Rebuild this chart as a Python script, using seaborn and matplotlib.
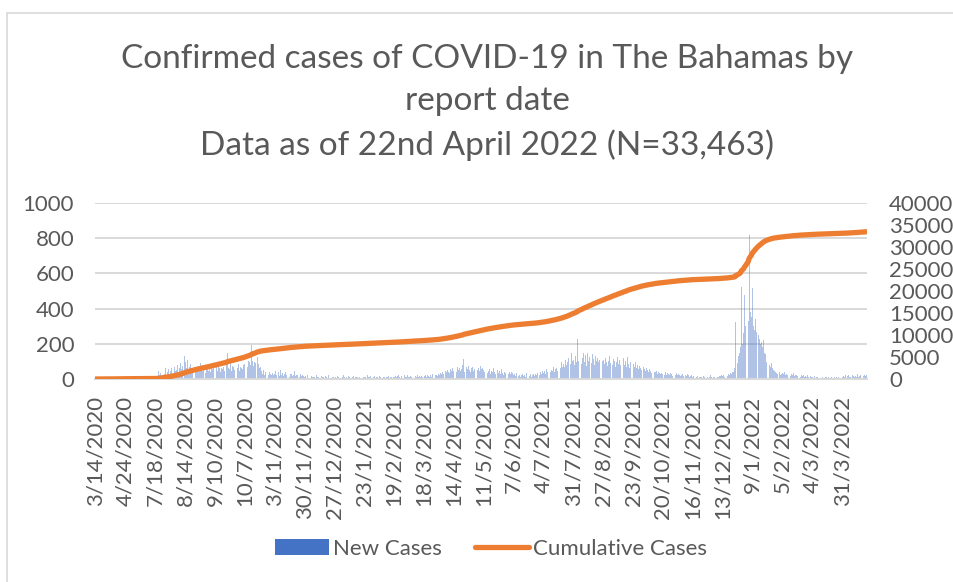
import numpy as np
import pandas as pd
import matplotlib
matplotlib.use("Agg")
import matplotlib.pyplot as plt
import seaborn as sns
from matplotlib.patches import Patch
from matplotlib.lines import Line2D

# ---- data (daily new cases, by 27-report blocks) ----
tick_labels = ["3/14/2020", "4/24/2020", "7/18/2020", "8/14/2020", "9/10/2020",
               "10/7/2020", "3/11/2020", "30/11/2020", "27/12/2020", "23/1/2021",
               "19/2/2021", "18/3/2021", "14/4/2021", "11/5/2021", "7/6/2021",
               "4/7/2021", "31/7/2021", "27/8/2021", "23/9/2021", "20/10/2021",
               "16/11/2021", "13/12/2021", "9/1/2022", "5/2/2022", "4/3/2022",
               "31/3/2022"]

b00 = [1,0,1,0,1,1,2,3,0,0,4,2,5,1,2,3,4,0,3,2,1,6,5,2,3,4,9]
b01 = [3,2,1,2,0,1,3,2,1,0,2,1,1,0,2,1,3,1,0,2,1,2,3,1,2,1,2]
b02 = [5,8,12,45,20,35,15,50,30,62,25,40,55,30,48,60,35,70,45,52,80,40,65,90,55,75,130]
b03 = [95,60,110,45,70,85,40,65,100,55,48,72,38,60,90,52,44,68,35,58,80,47,62,40,75,55,66]
b04 = [50,72,45,88,60,40,65,55,70,48,82,150,62,58,90,45,75,66,52,70,60,85,48,70,65,58,80]
b05 = [85,90,70,100,95,80,193,100,75,95,90,127,88,60,70,45,30,50,25,40,35,22,38,28,20,33,25]
b06 = [30,45,22,38,18,50,25,33,15,28,40,20,35,12,26,30,18,22,45,15,20,25,10,30,18,22,15]
b07 = [10,15,8,20,12,5,18,9,14,11,6,25,10,13,7,16,9,12,4,15,10,8,20,11,6,14,9]
b08 = [8,12,5,18,10,14,6,9,20,11,7,13,4,15,10,8,12,16,6,9,11,14,5,10,13,7,12]
b09 = [10,14,7,22,9,12,16,5,11,18,8,13,10,6,15,12,20,9,11,7,14,10,16,8,12,9,13]
b10 = [12,18,9,15,22,11,8,16,13,20,10,14,25,9,12,17,11,19,8,15,13,22,10,16,12,18,14]
b11 = [15,20,12,25,18,14,22,10,28,16,20,24,18,30,22,35,26,40,30,45,38,50,42,35,55,48,60]
b12 = [45,60,38,70,52,65,48,55,80,114,42,66,58,75,50,40,62,70,45,58,80,52,65,48,72,55,60]
b13 = [50,42,60,35,48,55,30,45,38,62,40,28,52,35,44,30,58,36,25,40,33,48,28,38,30,42,35]
b14 = [20,28,15,32,18,25,12,22,30,16,24,14,35,20,18,26,12,22,30,15,28,20,35,25,40,30,45]
b15 = [35,48,30,55,40,62,38,50,45,70,42,58,65,48,75,60,98,70,85,66,110,80,95,120,88,145,105]
b16 = [110,80,130,95,225,100,140,85,120,150,95,135,75,145,105,125,90,140,115,80,130,100,120,95,110,85,105]
b17 = [110,85,120,95,75,105,130,90,80,115,100,70,95,125,85,110,78,92,118,80,100,70,127,88,65,95,75]
b18 = [85,70,95,60,80,55,75,65,50,70,58,45,62,52,40,55,48,35,50,42,38,45,30,40,35,28,32]
b19 = [30,25,38,22,35,28,20,32,26,18,30,24,35,20,28,22,16,25,30,18,22,15,26,20,12,18,22]
b20 = [10,15,8,12,18,6,14,9,11,7,16,10,5,13,8,12,20,9,6,11,14,8,10,12,15,18,22]
b21 = [15,20,12,25,18,30,22,35,28,40,40,60,325,90,130,150,180,525,200,260,477,300,420,330,818,380,350]
b22 = [515,300,280,340,268,250,230,200,210,180,222,150,140,99,120,80,70,90,60,50,45,40,35,30,40,25,30]
b23 = [35,28,40,22,30,25,35,18,28,20,32,15,25,22,18,28,12,20,15,24,10,18,14,20,12,16,10]
b24 = [12,8,15,6,10,9,5,14,8,11,7,4,10,12,6,9,5,13,8,7,10,4,9,6,11,8,5]
b25 = [10,18,12,25,8,15,20,14,9,22,16,11,19,13,28,10,17,21,12,15,24,18,24]

blocks = [b00, b01, b02, b03, b04, b05, b06, b07, b08, b09, b10, b11, b12,
          b13, b14, b15, b16, b17, b18, b19, b20, b21, b22, b23, b24, b25]
new_cases = [v for b in blocks for v in b]
day = np.arange(len(new_cases))
df = pd.DataFrame({"day": day, "new": new_cases, "cum": np.cumsum(new_cases)})

# ---- style ----
sns.set_theme(style="white")
plt.rcParams["font.family"] = ["Lato", "DejaVu Sans"]
TXT = "#595959"
GRID = "#D9D9D9"
BLUE = "#4472C4"
ORANGE = "#ED7D31"
FS = 16

W, H = 954, 582
fig = plt.figure(figsize=(W / 100, H / 100), dpi=100)
ax = fig.add_axes([95 / W, 1 - 379 / H, (867 - 95) / W, 176 / H])

sns.barplot(data=df, x="day", y="new", native_scale=True, color=BLUE,
            saturation=1, width=0.85, errorbar=None, ax=ax, linewidth=0, alpha=0.42)
ax.set_xlim(-0.5, len(new_cases) - 0.5)
ax.set_ylim(0, 1000)
ax.set_yticks(range(0, 1001, 200))
ax.yaxis.grid(True, color=GRID, linewidth=1.4)
ax.set_axisbelow(True)
for s in ["top", "left", "right"]:
    ax.spines[s].set_visible(False)
ax.spines["bottom"].set_color(GRID)
ax.spines["bottom"].set_linewidth(1.4)
ax.set_xticks(day[::27])
ax.set_xticklabels(tick_labels, rotation=90, va="top", ha="center")
ax.tick_params(axis="x", length=0, pad=12, labelsize=FS, colors=TXT)
ax.tick_params(axis="y", length=0, pad=15, labelsize=FS, colors=TXT)
ax.set_xlabel("")
ax.set_ylabel("")

ax2 = ax.twinx()
sns.lineplot(data=df, x="day", y="cum", ax=ax2, color=ORANGE, linewidth=3.8,
             solid_capstyle="round")
ax2.set_ylim(0, 40000)
ax2.set_yticks(range(0, 40001, 5000))
ax2.grid(False)
for s in ax2.spines.values():
    s.set_visible(False)
ax2.tick_params(axis="y", length=0, pad=16, labelsize=FS, colors=TXT)
ax2.set_ylabel("")
ax2.set_xlabel("")

fig.text(0.511, 1 - 44 / H,
         "Confirmed cases of COVID-19 in The Bahamas by\nreport date\nData as of 22nd April 2022 (N=33,463)",
         ha="center", va="top", fontsize=24, color=TXT, linespacing=1.52)

handles = [Patch(facecolor=BLUE, edgecolor="none"),
           Line2D([0], [0], color=ORANGE, linewidth=3.8, solid_capstyle="round")]
fig.legend(handles, ["New Cases", "Cumulative Cases"], loc="center",
           bbox_to_anchor=(0.515, 1 - 549 / H), ncol=2, frameon=False,
           fontsize=FS, handlelength=2.4, handletextpad=0.2,
           columnspacing=1.5, labelcolor=TXT)

# chart-area border (left and top edges visible in the reference)
fig.add_artist(Line2D([7 / W, 7 / W], [0, 1 - 13 / H], color=GRID, lw=1.2,
                      transform=fig.transFigure))
fig.add_artist(Line2D([7 / W, 1], [1 - 13 / H, 1 - 13 / H], color=GRID, lw=1.2,
                      transform=fig.transFigure))

fig.savefig("out.png", dpi=100)
